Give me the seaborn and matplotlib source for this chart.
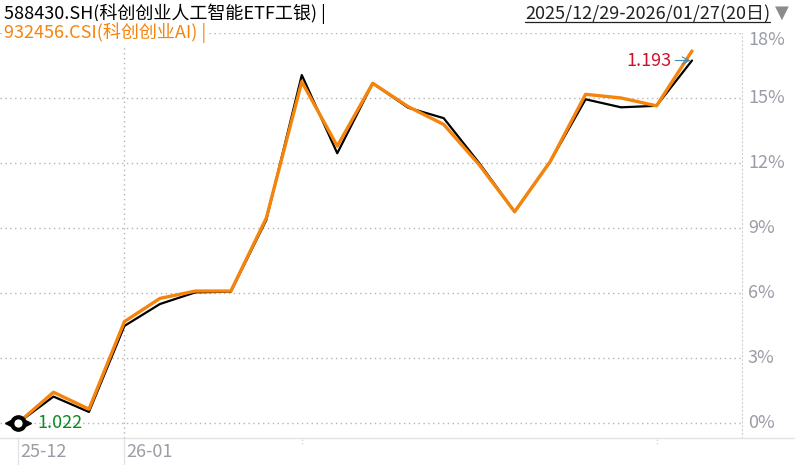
import numpy as np
import pandas as pd
import matplotlib
matplotlib.use("Agg")
import matplotlib.pyplot as plt
import matplotlib.transforms as mtrans
import seaborn as sns

# 数据 (相对 2025/12/29 的涨跌幅, %)
dates = ["12-29", "12-30", "12-31", "01-05", "01-06", "01-07", "01-08", "01-09",
         "01-12", "01-13", "01-14", "01-15", "01-16", "01-19", "01-20", "01-21",
         "01-22", "01-23", "01-26", "01-27"]
etf_pct = [0.0, 1.22, 0.51, 4.48, 5.49, 6.03, 6.06, 9.37, 16.06, 12.45,
           15.68, 14.55, 14.07, 12.0, 9.75, 12.06, 14.94, 14.57, 14.64, 16.73]
idx_pct = [0.0, 1.42, 0.64, 4.68, 5.75, 6.09, 6.09, 9.46, 15.75, 12.78,
           15.68, 14.6, 13.78, 11.92, 9.75, 12.06, 15.17, 15.0, 14.64, 17.17]
y_ticks = [0, 3, 6, 9, 12, 15, 18]
month_labels = {0: "25-12", 3: "26-01"}
start_val = "1.022"
end_val = "1.193"

etf_name = "588430.SH(科创创业人工智能ETF工银) |"
idx_name = "932456.CSI(科创创业AI) |"
period = "2025/12/29-2026/01/27(20日)"

df = pd.DataFrame({"i": np.arange(len(dates)), "etf": etf_pct, "idx": idx_pct})

sns.set_style("white")
plt.rcParams["font.family"] = ["Noto Sans CJK SC", "DejaVu Sans"]

W, H = 795, 465
fig = plt.figure(figsize=(W / 100, H / 100), dpi=100)
ax_top, ax_bot, ax_right = 33, 438, 742
ax = fig.add_axes([0, (H - ax_bot) / H, ax_right / W, (ax_bot - ax_top) / H])

orange = "#f5840c"
grid_c = "#b4b4b4"
tick_c = "#9a9ca6"
fs = 13

sns.lineplot(data=df, x="i", y="etf", ax=ax, color="black", lw=1.6, zorder=3)
sns.lineplot(data=df, x="i", y="idx", ax=ax, color=orange, lw=2.4, zorder=4)

# 坐标范围: 0 在 x=18px, 最后一点在 x=692px
step = (692 - 18) / (len(dates) - 1)
ax.set_xlim(-18 / step, len(dates) - 1 + (ax_right - 692) / step)
px_pct = (423 - 358) / 3
ax.set_ylim(-(ax_bot - 423) / px_pct, 18)

ax.set_xticks([])
ax.set_yticks([])
ax.set_xlabel("")
ax.set_ylabel("")
for s in ["left", "bottom", "top"]:
    ax.spines[s].set_visible(False)
ax.spines["right"].set_linestyle((0, (1, 2.5)))
ax.spines["right"].set_color("#d0d0d0")

for v in y_ticks:
    ax.axhline(v, color=grid_c, lw=1, ls=(0, (1, 2.5)), zorder=1)
    yy = v if v < 18 else 17.7
    ax.text(1.008, yy, f"{v}%", transform=ax.get_yaxis_transform(),
            ha="left", va="center", color=tick_c, fontsize=fs)
ax.axvline(3, color=grid_c, lw=1, ls=(0, (1, 2.5)), zorder=1)

# 底部轴线与月份标签
fig.add_artist(plt.Line2D([0, 1], [(H - ax_bot) / H] * 2, color="#e2e2e2", lw=1))
for i, lab in month_labels.items():
    xf = (18 + i * step) / W
    fig.add_artist(plt.Line2D([xf, xf], [0, (H - ax_bot) / H], color="#e4e4e4", lw=1))
    fig.text(xf + 2 / W, (H - 452) / H, lab, ha="left", va="center", color=tick_c, fontsize=fs)
for i in [8, 18]:
    xf = (18 + i * step) / W
    fig.add_artist(plt.Line2D([xf, xf], [(H - ax_bot - 6) / H, (H - ax_bot) / H],
                              color="#d8d8d8", lw=1, ls=(0, (1, 1.5))))

# 起点标记
ax.plot([0], [0], marker="o", ms=9, mfc="white", mec="black", mew=3, zorder=6)
for dx, m in [(-10, "<"), (10, ">")]:
    tr = mtrans.offset_copy(ax.transData, fig=fig, x=dx, y=0, units="dots")
    ax.plot([0], [0], marker=m, ms=5, color="black", transform=tr, zorder=6)
ax.annotate(start_val, (0, 0), xytext=(19, 0), textcoords="offset pixels",
            ha="left", va="center", color="#0f8a22", fontsize=fs, zorder=6)

# 终点标注
last = len(dates) - 1
ax.annotate(end_val, (last, etf_pct[-1]), xytext=(-20, 0), textcoords="offset pixels",
            ha="right", va="center", color="#d0102a", fontsize=fs, zorder=6,
            arrowprops=dict(arrowstyle="->", color="#3d8fb8", lw=0.8,
                            shrinkA=0, shrinkB=1))

# 顶部标题
fig.text(4 / W, 1 - 14 / H, etf_name, ha="left", va="center", color="black", fontsize=fs)
fig.text(4 / W, 1 - 33 / H, idx_name, ha="left", va="center", color=orange, fontsize=fs,
         bbox=dict(facecolor="white", edgecolor="none", pad=1.5), zorder=10)
t = fig.text(770 / W, 1 - 14 / H, period, ha="right", va="center", color="#222222",
             fontsize=fs)
fig.text(782 / W, 1 - 13 / H, "▼", ha="center", va="center", color="#8c8c8c",
         fontsize=13, family="DejaVu Sans")

fig.canvas.draw()
bb = t.get_window_extent()
fig.add_artist(plt.Line2D([bb.x0 / W, bb.x1 / W], [(bb.y0 + 1) / H] * 2,
                          color="#222222", lw=0.9))

fig.savefig("out.png", dpi=100)
